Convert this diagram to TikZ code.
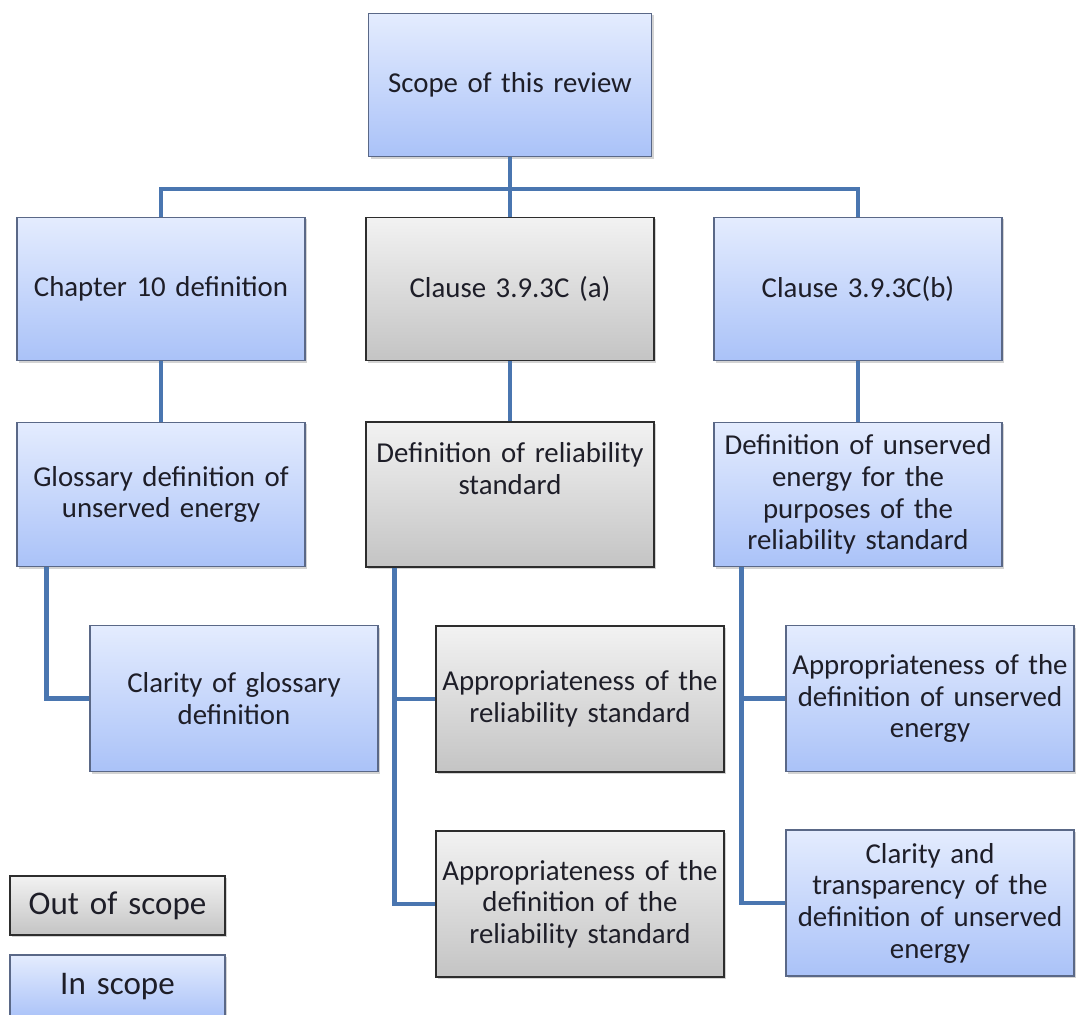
\documentclass[tikz,border=0pt]{standalone}
\usepackage{fontspec}
\setmainfont{Carlito}
\usetikzlibrary{shadows}
\definecolor{inTop}{RGB}{228,236,254}
\definecolor{inBot}{RGB}{170,194,248}
\definecolor{inEdge}{RGB}{90,104,135}
\definecolor{outTop}{RGB}{242,242,242}
\definecolor{outBot}{RGB}{196,196,196}
\definecolor{outEdge}{RGB}{45,45,45}
\definecolor{linkBlue}{RGB}{74,118,176}
\definecolor{txt}{RGB}{30,30,40}

\begin{document}
\begin{tikzpicture}[x=0.025cm,y=-0.025cm,
    box/.style={rectangle,align=center,text width=6.9cm,minimum width=7.2cm,minimum height=3.58cm,inner sep=0pt,text=txt,font=\fontsize{20.5}{22.5}\selectfont,drop shadow={shadow xshift=1.5pt,shadow yshift=-1.5pt,opacity=0.35}},
    inbox/.style={box,draw=inEdge,line width=0.8pt,top color=inTop,bottom color=inBot},
    outbox/.style={box,draw=outEdge,line width=1.1pt,top color=outTop,bottom color=outBot},
    tall/.style={minimum height=3.65cm},
    legend/.style={text width=5cm,minimum width=5.375cm,minimum height=1.475cm,font=\fontsize{23.5}{26}\selectfont},
    link/.style={draw=linkBlue,line width=3.5pt}]
        \useasboundingbox (0,0) rectangle (1077,1014);
        \node [inbox,minimum width=7.075cm] (scope) at (510,85) {Scope of this review};
        \node [inbox] (chap) at (161,289) {Chapter 10 definition};
        \node [outbox] (clausea) at (510,289) {Clause 3.9.3C (a)};
        \node [inbox] (clauseb) at (858,289) {Clause 3.9.3C(b)};
        \node [inbox,minimum height=3.62cm] (gloss) at (161,494.5) {Glossary definition of\\unserved energy};
        \node [outbox,minimum height=3.62cm] (defrel) at (510,494.5) {Definition of reliability\\standard\\[0.5cm]\mbox{}};
        \node [inbox,minimum height=3.62cm] (defuse) at (858,494.5) {Definition of unserved\\energy for the\\purposes of the\\reliability standard};
        \node [inbox,tall] (clarg) at (234,698.5) {Clarity of glossary\\definition};
        \node [outbox,tall] (apprel) at (580,699) {Appropriateness of the\\reliability standard};
        \node [outbox,tall] (appdefrel) at (580,904) {Appropriateness of the\\definition of the\\reliability standard};
        \node [inbox,tall] (appdefuse) at (930,698.5) {Appropriateness of the\\definition of unserved\\energy};
        \node [inbox,tall] (clartr) at (930,903) {Clarity and\\transparency of the\\definition of unserved\\energy};
        \node [outbox,legend] (outleg) at (117.5,905.5) {Out of scope};
        \node [inbox,legend,minimum height=1.6cm] (inleg) at (117.5,987) {In scope};
        \coordinate (bus) at (510,189);
        \draw[link] (scope.south) -- (clausea.north);
        \draw[link] (chap.north) |- (bus) -| (clauseb.north);
        \draw[link] (chap.south) -- (gloss.north);
        \draw[link] (clausea.south) -- (defrel.north);
        \draw[link] (clauseb.south) -- (defuse.north);
        \draw[link] ([xshift=0.75cm]gloss.south west) |- (clarg.west);
        \draw[link] ([xshift=0.725cm]defrel.south west) |- (appdefrel.west);
        \draw[link] ([xshift=0.725cm]defrel.south west) |- (apprel.west);
        \draw[link] ([xshift=0.7cm]defuse.south west) |- (clartr.west);
        \draw[link] ([xshift=0.7cm]defuse.south west) |- (appdefuse.west);
      \end{tikzpicture}
\end{document}
